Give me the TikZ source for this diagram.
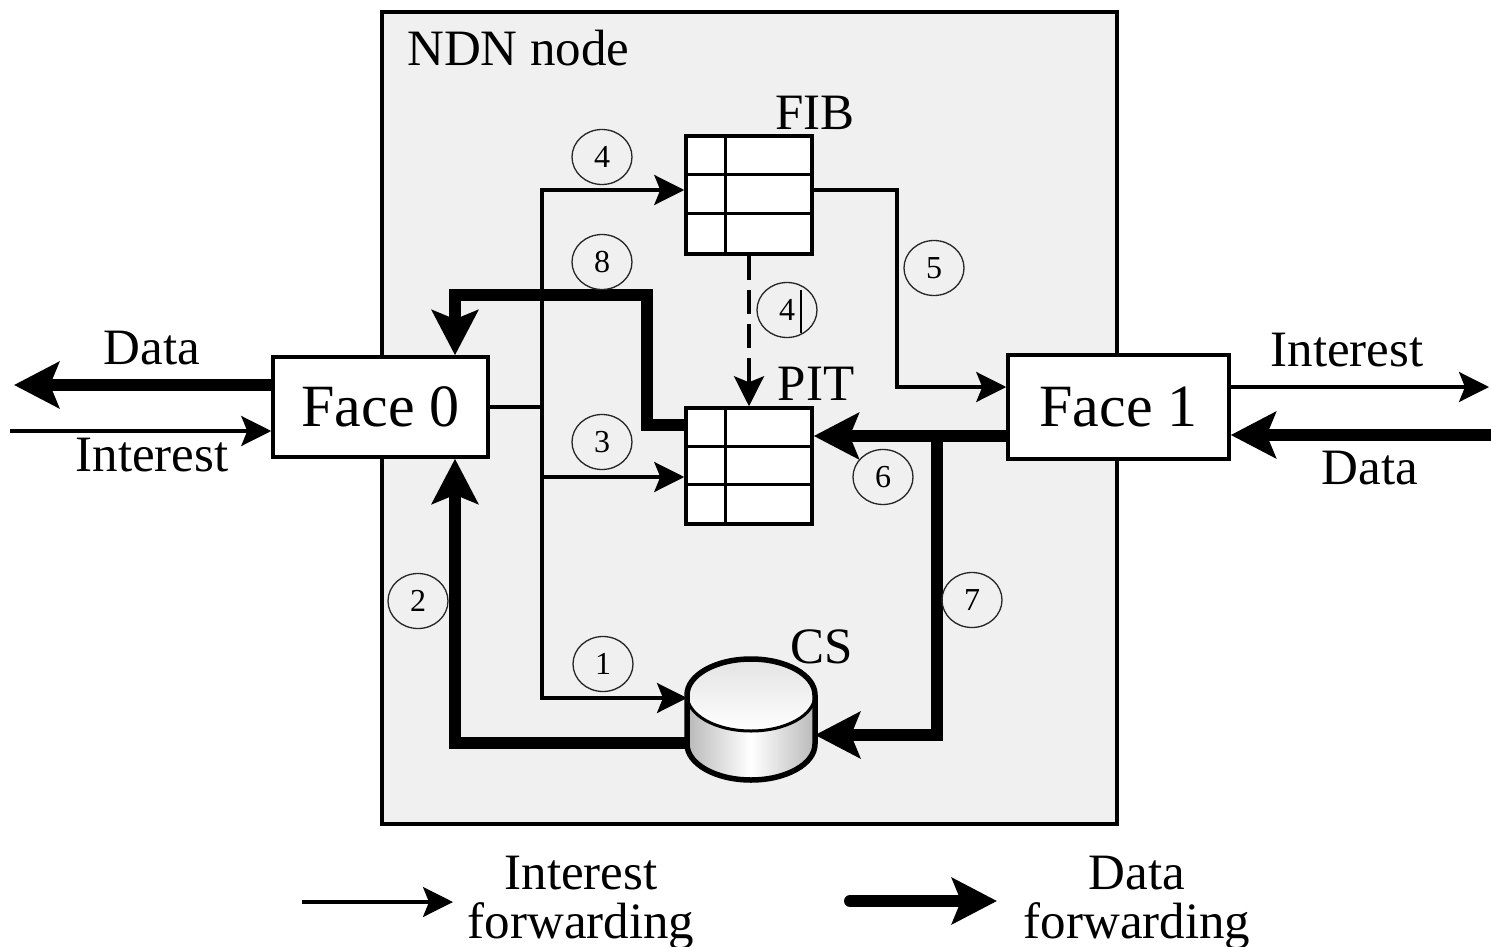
\documentclass[tikz,border=0pt]{standalone}
\usepackage{fontspec}
\setmainfont{Liberation Serif}
\usetikzlibrary{arrows.meta,shapes.geometric}
\definecolor{bggray}{RGB}{240,240,240}
\begin{document}
\begin{tikzpicture}[x=1pt,y=-1pt,
  intline/.style={line width=3.2pt},
  intarr/.style={intline,-{Stealth[length=30pt,width=30pt,inset=6pt]}},
  datline/.style={line width=12pt},
  datarr/.style={datline,-{Stealth[length=45pt,width=46pt,inset=9pt]}},
  facebox/.style={draw,fill=white,line width=3.5pt,inner sep=0pt,font=\fontsize{60}{70}\selectfont},
  tbl/.style={draw,fill=white,line width=3.5pt,minimum width=126pt,inner sep=0pt},
  tline/.style={line width=3.5pt},
  num/.style={ellipse,draw=black!85,line width=1.3pt,minimum width=60pt,minimum height=55pt,inner sep=0pt,font=\fontsize{32}{36}\selectfont},
  lbl/.style={font=\fontsize{51}{56}\selectfont,anchor=base,inner sep=0pt},
]
\useasboundingbox (0,0) rectangle (1491,947);

% NDN node container
\node[draw,fill=bggray,line width=3.5pt,minimum width=735pt,minimum height=812pt,inner sep=0pt] (ndn) at (749.5,418) {};
\node[lbl,anchor=base west] (ndnl) at (407,66) {NDN node};

% faces
\node[facebox,minimum width=215pt,minimum height=100pt] (face0) at (380.5,407) {Face 0};
\node[facebox,minimum width=221pt,minimum height=104pt] (face1) at (1118.5,407) {Face 1};

% tables
\node[tbl,minimum height=118pt] (fib) at (749,195) {};
\draw[tline] ([xshift=41pt]fib.north west) -- ([xshift=41pt]fib.south west);
\draw[tline] ([yshift=-40pt]fib.north west) -- ([yshift=-40pt]fib.north east);
\draw[tline] ([yshift=-79pt]fib.north west) -- ([yshift=-79pt]fib.north east);
\node[lbl] (fibl) at (815,130) {FIB};

\node[tbl,minimum height=116pt] (pit) at (749,466) {};
\draw[tline] ([xshift=41pt]pit.north west) -- ([xshift=41pt]pit.south west);
\draw[tline] ([yshift=-40pt]pit.north west) -- ([yshift=-40pt]pit.north east);
\draw[tline] ([yshift=-78pt]pit.north west) -- ([yshift=-78pt]pit.north east);
\node[lbl] (pitl) at (816,400) {PIT};

% CS placeholder node
\node[minimum width=128pt,minimum height=121pt,inner sep=0pt,outer sep=0pt] (cs) at (751,719.5) {};
\node[lbl] (csl) at (822,663) {CS};

% coordinates
\coordinate (b4) at (542,190);
\coordinate (b3) at (542,477);
\coordinate (b1) at (542,698);
\coordinate (j5) at (897,190);
\coordinate (j5b) at (897,387);
\coordinate (d6) at (937,436);
\coordinate (d7) at (937,735);
\coordinate (d8a) at (647,425);
\coordinate (d8b) at (647,295);
\coordinate (d8c) at (455,295);
\coordinate (d2) at (455,743);
\coordinate (dl) at (14,385);
\coordinate (il) at (10,431);
\coordinate (ir) at (1489,387);
\coordinate (dr) at (1491,435);

% interest forwarding (thin)
\draw[intline] (face0.east) -- (face0.east -| b3);
\draw[intarr] (b3) |- (b4 -| fib.west);
\draw[intarr] (b3) |- (b1 -| cs.west);
\draw[intarr] (b3) -- (b3 -| pit.west);
\draw[intarr] (j5 -| fib.east) -- (j5) -- (j5b) -- (j5b -| face1.west);
\draw[intline,dash pattern=on 24pt off 10pt,-{Stealth[length=30pt,width=30pt,inset=6pt]}] (fib.south) -- (pit.north);

% data forwarding (thick)
\draw[datarr] (d6 -| face1.west) -- (d6 -| pit.east);
\draw[datarr] (d6) -- (d7) -- (d7 -| cs.east);
\draw[datarr] (d8a -| pit.west) -- (d8a) -- (d8b) -- (d8c) -- (d8c |- face0.north);
\draw[datarr] (d2 -| cs.west) -- (d2) -- (d2 |- face0.south);

% outside
\draw[datarr] (face0.west |- dl) -- (dl);
\draw[intarr] (il) -- (il -| face0.west);
\draw[intarr] (face1.east |- ir) -- (ir);
\draw[datarr] (dr) -- (dr -| face1.east);
\node[lbl] (ldata) at (152,364) {Data};
\node[lbl] (lint) at (152,471) {Interest};
\node[lbl] (rint) at (1347,366) {Interest};
\node[lbl] (rdata) at (1370,484) {Data};

% CS cylinder
\shade[left color=gray!55,right color=gray!55,middle color=white] (687,695) -- (687,744) arc[start angle=180,end angle=360,x radius=64pt,y radius=36pt] -- (815,695) -- cycle;
\shade[top color=gray!22,bottom color=white] (751,695) ellipse[x radius=64pt,y radius=36pt];
\draw[line width=3pt] (687,695) arc[start angle=180,end angle=360,x radius=64pt,y radius=36pt];
\draw[line width=5.5pt] (815,695) arc[start angle=0,end angle=180,x radius=64pt,y radius=36pt] -- (687,744) arc[start angle=180,end angle=360,x radius=64pt,y radius=36pt] -- cycle;

% step numbers
\node[num] (n4a) at (602,157) {4};
\node[num] (n8) at (602,262) {8};
\node[num] (n3) at (602,442) {3};
\node[num] (n4b) at (787,310) {4};
\draw[line width=1.5pt] ([xshift=14pt,yshift=20pt]n4b.center) -- ([xshift=14pt,yshift=-23pt]n4b.center);
\node[num] (n5) at (934,268) {5};
\node[num] (n6) at (883,477) {6};
\node[num] (n2) at (418,601) {2};
\node[num] (n7) at (972,600) {7};
\node[num] (n1) at (603,664) {1};

% legend
\coordinate (li1) at (302,902);
\coordinate (li2) at (453,902);
\draw[intarr] (li1) -- (li2);
\node[lbl] (legi1) at (581,889) {Interest};
\node[lbl] (legi2) at (581,938) {forwarding};
\coordinate (ld1) at (850,901);
\coordinate (ld2) at (997,901);
\draw[datarr,line cap=round] (ld1) -- (ld2);
\node[lbl] (legd1) at (1137,889) {Data};
\node[lbl] (legd2) at (1137,938) {forwarding};
\end{tikzpicture}
\end{document}
